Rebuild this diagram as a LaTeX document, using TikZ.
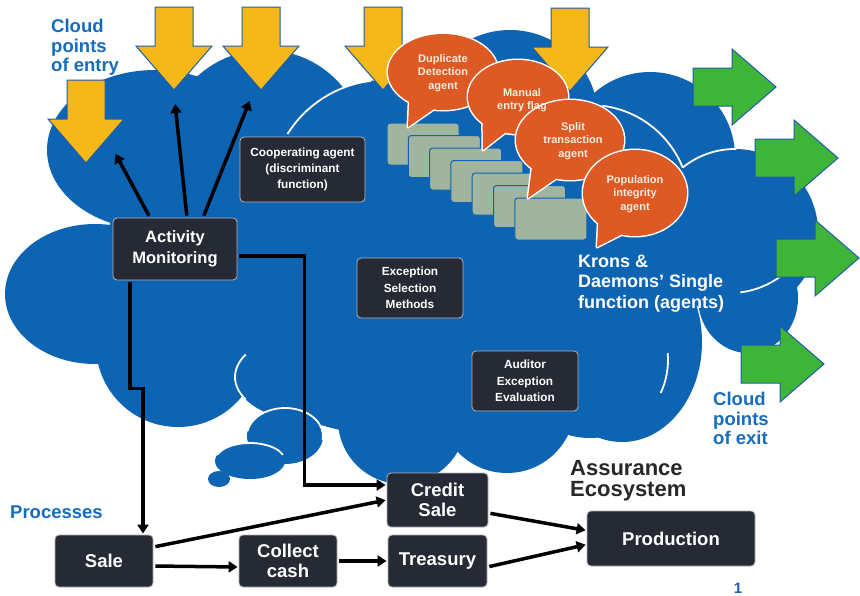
\documentclass[tikz,border=0pt]{standalone}
\usepackage{fontspec}
\setmainfont{Liberation Sans}
\usetikzlibrary{arrows.meta}
\definecolor{cloudblue}{RGB}{12,100,178}
\definecolor{edgeblue}{RGB}{30,92,168}
\definecolor{ayellow}{RGB}{246,184,24}
\definecolor{agreen}{RGB}{62,180,56}
\definecolor{aorange}{RGB}{222,90,36}
\definecolor{cardgreen}{RGB}{160,180,160}
\definecolor{boxdark}{RGB}{38,42,52}
\definecolor{txtblue}{RGB}{22,108,190}
\definecolor{txtdark}{RGB}{40,40,40}
\definecolor{bubtxt}{RGB}{252,236,222}
\newcommand{\Bubble}[8]{%
 \path[draw=white,line width=3pt,line join=round,fill=white] (#1,#2) ellipse[x radius=#3,y radius=#4];
 \path[draw=white,line width=3pt,line join=round,fill=white] ([shift={(#7:#3 and #4)}]#1,#2) -- (#5,#6) -- ([shift={(#8:#3 and #4)}]#1,#2) -- cycle;
 \fill[aorange] (#1,#2) ellipse[x radius=#3,y radius=#4];
 \fill[aorange] ([shift={(#7:#3 and #4)}]#1,#2) -- (#5,#6) -- ([shift={(#8:#3 and #4)}]#1,#2) -- cycle;
}
\tikzset{
 whitearc/.style={draw=white,line width=1.8pt},
 darkbox/.style={rectangle,rounded corners=4pt,fill=boxdark,draw=white!65!boxdark,line width=0.8pt,text=white,align=center,inner sep=0pt},
 bigtxt/.style={font=\fontsize{18.5}{20}\selectfont\bfseries},
 amtxt/.style={font=\fontsize{16.5}{21.5}\selectfont\bfseries},
 smalltxt/.style={font=\fontsize{11.8}{16.3}\selectfont\bfseries},
 bubtext/.style={font=\fontsize{11}{13.5}\selectfont\bfseries,text=bubtxt,align=center,inner sep=0pt},
 lbl/.style={inner sep=0pt,align=left},
 conn/.style={draw=black,line width=3.5pt,shorten <=2pt,shorten >=1pt,-{Triangle[length=9pt,width=11pt]}},
 ydown/.pic={\filldraw[fill=ayellow,draw=edgeblue,line width=1pt,line join=miter] (-19,0) -- (19,0) -- (19,39) -- (38,39) -- (0,83) -- (-38,39) -- (-19,39) -- cycle;},
 gright/.pic={\filldraw[fill=agreen,draw=edgeblue,line width=1pt,line join=miter] (0,-19) -- (39,-19) -- (39,-38) -- (83,0) -- (39,38) -- (39,19) -- (0,19) -- cycle;}
}
\begin{document}
\begin{tikzpicture}[x=1pt,y=-1pt]
\useasboundingbox (0,0) rectangle (860,595);
\fill[white] (0,0) rectangle (860,595);
% cloud lobes
\fill[cloudblue] (155,150) ellipse[x radius=108,y radius=80];
\fill[cloudblue] (265,150) circle[radius=100];
\fill[cloudblue] (385,195) circle[radius=115];
\fill[cloudblue] (510,118) circle[radius=88];
\fill[cloudblue] (650,157) circle[radius=85];
\fill[cloudblue] (590,205) circle[radius=100];
\fill[cloudblue] (735,232) circle[radius=83];
\fill[cloudblue] (748,298) ellipse[x radius=50,y radius=55];
\fill[cloudblue] (622,342) ellipse[x radius=80,y radius=100];
\fill[cloudblue] (590,360) circle[radius=78];
\fill[cloudblue] (507,405) circle[radius=68];
\fill[cloudblue] (402,420) circle[radius=64];
\fill[cloudblue] (315,377) ellipse[x radius=80,y radius=45];
\fill[cloudblue] (178,345) circle[radius=82];
\fill[cloudblue] (95,294) ellipse[x radius=90,y radius=70];
\fill[cloudblue] (175,250) circle[radius=70];
\fill[cloudblue] (430,290) ellipse[x radius=250,y radius=150];
% inner white outlines
\draw[whitearc] ([shift={(212:115)}]385,195) arc[start angle=212,end angle=263,radius=115];
\draw[whitearc] ([shift={(150:80 and 45)}]315,377) arc[start angle=150,end angle=210,x radius=80,y radius=45];
\draw[whitearc] ([shift={(277:100)}]590,205) arc[start angle=277,end angle=338,radius=100];
\draw[whitearc] ([shift={(231:83)}]735,232) arc[start angle=231,end angle=271,radius=83];
\draw[whitearc] ([shift={(-5:78)}]590,360) arc[start angle=-5,end angle=25,radius=78];
\draw[whitearc] ([shift={(83:85)}]730,208) arc[start angle=83,end angle=53,radius=85];
% thought bubbles
\fill[cloudblue] (285,436) ellipse[x radius=38,y radius=28];
\draw[whitearc] ([shift={(190:38 and 28)}]285,436) arc[start angle=190,end angle=368,x radius=38,y radius=28];
\fill[cloudblue] (250,461) ellipse[x radius=35,y radius=18];
\draw[whitearc] ([shift={(200:35 and 18)}]250,461) arc[start angle=200,end angle=340,x radius=35,y radius=18];
\fill[cloudblue] (219,479) ellipse[x radius=11,y radius=8];
% entry arrows
\pic at (86,80) {ydown};
\pic at (174,7) {ydown};
\pic at (261,7) {ydown};
\pic at (383,7) {ydown};
\pic at (570,8) {ydown};
% exit arrows
\pic at (693,87) {gright};
\pic at (755,158) {gright};
\pic at (776,258) {gright};
\pic at (741,364) {gright};
% stacked cards
\foreach \i in {0,...,6}
 \filldraw[fill=cardgreen,draw=cloudblue,line width=1pt,rounded corners=3pt] ({387+21.3*\i},{123+12.5*\i}) rectangle ++(72,42);
% agent speech bubbles
\Bubble{443}{72}{55}{38}{408}{127}{100}{128}
\Bubble{518}{97}{50}{37}{483}{150}{105}{135}
\Bubble{570}{140}{54}{40}{528}{198}{105}{135}
\Bubble{635}{193}{52}{43}{597}{247}{105}{135}
\node[bubtext] (b1) at (443,73) {Duplicate\\Detection\\agent};
\node[bubtext] (b2) at (522,100) {Manual\\entry flag};
\node[bubtext] (b3) at (573,141) {Split\\transaction\\agent};
\node[bubtext] (b4) at (635,194) {Population\\integrity\\agent};
% boxes
\node[darkbox,amtxt,minimum width=124pt,minimum height=62pt] (AM) at (175,249) {Activity\\Monitoring};
\node[darkbox,smalltxt,minimum width=125pt,minimum height=65pt] (Coop) at (302.5,169.5) {Cooperating agent\\(discriminant\\function)};
\node[darkbox,smalltxt,minimum width=106pt,minimum height=60pt] (ESM) at (410,288) {Exception\\Selection\\Methods};
\node[darkbox,smalltxt,minimum width=106pt,minimum height=60pt] (AEE) at (525,381) {Auditor\\Exception\\Evaluation};
\node[darkbox,bigtxt,minimum width=101pt,minimum height=54pt] (Credit) at (437.5,500) {Credit\\Sale};
\node[darkbox,bigtxt,minimum width=99pt,minimum height=52pt] (Treasury) at (437.5,561) {Treasury};
\node[darkbox,bigtxt,minimum width=98pt,minimum height=52pt] (Sale) at (104,561) {Sale};
\node[darkbox,bigtxt,minimum width=98pt,minimum height=52pt] (Collect) at (288,561) {Collect\\cash};
\node[darkbox,bigtxt,minimum width=168pt,minimum height=55pt] (Production) at (671,538.5) {Production};
% labels
\node[lbl,anchor=north west,text=txtblue,font=\fontsize{18.5}{19.5}\selectfont\bfseries] (entry) at (51,19) {Cloud\\points\\of entry};
\node[lbl,anchor=north west,text=txtblue,font=\fontsize{18.5}{19.5}\selectfont\bfseries] (exit) at (713,392) {Cloud\\points\\of exit};
\node[lbl,anchor=base west,text=txtblue,font=\fontsize{18.5}{20}\selectfont\bfseries] (proc) at (10,518) {Processes};
\node[lbl,anchor=north west,text=txtdark,font=\fontsize{22}{21}\selectfont\bfseries] (assur) at (570,460) {Assurance\\Ecosystem};
\node[lbl,anchor=north west,text=white,font=\fontsize{18}{20.5}\selectfont\bfseries] (krons) at (578,254.5) {Krons \&\\Daemons’ Single\\function (agents)};
\node[lbl,anchor=base,text=edgeblue,font=\fontsize{15}{16}\selectfont\bfseries] (pnum) at (738,593) {1};
% connectors
\coordinate (t1) at (115,153);
\coordinate (t2) at (175,103);
\coordinate (t3) at (250,100);
\draw[conn] ([xshift=-25pt]AM.north) -- (t1);
\draw[conn] ([xshift=12pt]AM.north) -- (t2);
\draw[conn] ([xshift=28pt]AM.north) -- (t3);
\draw[conn] ([yshift=-7pt]AM.east) -| ([xshift=-82pt,yshift=15pt]Credit.west) -- ([yshift=15pt]Credit.west);
\draw[conn] ([xshift=-45pt]AM.south) -- ++(0,108) -| ([xshift=39pt]Sale.north);
\draw[conn] ([yshift=14pt]Sale.east) -- (Credit.west);
\draw[conn] ([yshift=-5pt]Sale.east) -- ([yshift=-6pt]Collect.west);
\draw[conn] (Collect.east) -- (Treasury.west);
\draw[conn] ([yshift=-13pt]Credit.east) -- ([yshift=8pt]Production.west);
\draw[conn] ([yshift=-6pt]Treasury.east) -- ([yshift=-6pt]Production.west);
\end{tikzpicture}
\end{document}
